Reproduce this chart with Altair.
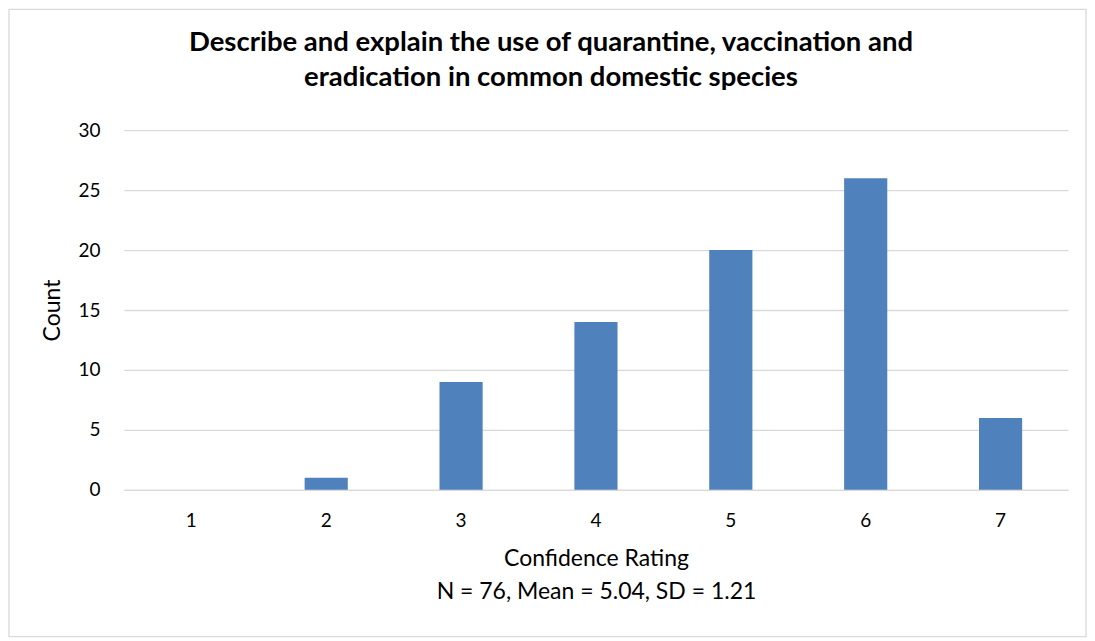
import altair as alt
import pandas as pd

ratings = ["1", "2", "3", "4", "5", "6", "7"]
counts = [0, 1, 9, 14, 20, 26, 6]
y_ticks = [0, 5, 10, 15, 20, 25, 30]
title_lines = ["Describe and explain the use of quarantine, vaccination and",
               "eradication in common domestic species"]
x_title = ["Confidence Rating", "N = 76, Mean = 5.04, SD = 1.21"]
y_title = "Count"

FONT = "Lato"
W, H = 945, 360
PL, PT, PR, PB = 116, 122, 19, 148

df = pd.DataFrame({"rating": ratings, "count": counts})

bars = alt.Chart(df).mark_bar(color="#4F81BD").encode(
    x=alt.X("rating:N", sort=ratings,
            scale=alt.Scale(paddingInner=0.68, paddingOuter=0.34),
            axis=alt.Axis(title=x_title, labelAngle=0, labelFontSize=19, labelPadding=22,
                          ticks=False, domainColor="#D9D9D9", domainWidth=1.3,
                          titleFontSize=23, titleFontWeight="normal",
                          titleY=76, titleAlign="center",
                          titleBaseline="alphabetic", titleLineHeight=33)),
    y=alt.Y("count:Q", scale=alt.Scale(domain=[0, 30], nice=False),
            axis=alt.Axis(title=y_title, values=y_ticks, labelFontSize=19, labelPadding=24,
                          ticks=False, domain=False, gridColor="#D9D9D9", gridWidth=1.3,
                          titleFontSize=23, titleFontWeight="normal",
                          titleX=-71, titleY=180, titleAngle=-90, titleBaseline="middle",
                          titleAlign="center")),
)

border = alt.Chart(pd.DataFrame({"a": [0]})).mark_rect(
    fill=None, stroke="#D9D9D9", strokeWidth=1.3, clip=False
).encode(
    x=alt.value(-PL + 1), x2=alt.value(W + PR - 1),
    y=alt.value(-PT + 1), y2=alt.value(H + PB - 1),
)

chart = alt.layer(border, bars).properties(
    width=W, height=H,
    padding={"left": PL, "top": PT, "right": PR, "bottom": PB},
    autosize=alt.AutoSizeParams(type="none"),
    background="white",
    title=alt.TitleParams(text=title_lines, fontSize=27.5, fontWeight="bold", font=FONT,
                          anchor="middle", frame="group", dx=-45, baseline="alphabetic",
                          lineHeight=35, offset=-105, color="#000000"),
).configure_view(stroke=None).configure_axis(
    labelFont=FONT, titleFont=FONT, labelColor="#000000", titleColor="#000000"
)

chart.save("out.html", embed_options={"renderer": "svg", "actions": False})
